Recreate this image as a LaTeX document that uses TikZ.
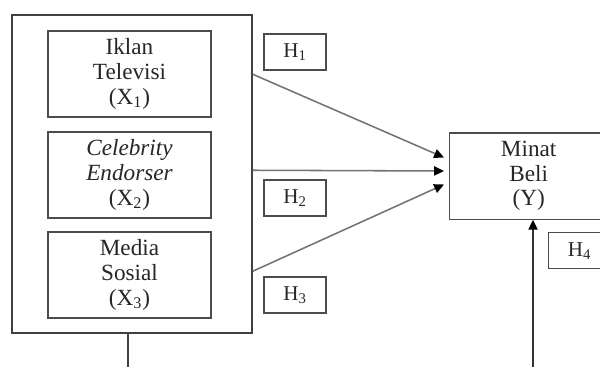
\documentclass[tikz,border=0pt]{standalone}
\usepackage{fontspec}
\setmainfont{Liberation Serif}
\usetikzlibrary{calc,arrows.meta}

\begin{document}
\begin{tikzpicture} [x=0.025cm, y=-0.025cm,
                     var/.style= {draw=black!70, line width=0.9pt,
                                  minimum width=4.075cm, minimum height=2.15cm,
                                  align=center, inner sep=0, text=black!85,
                                  font=\fontsize{16.5}{17.5}\selectfont},
                     hyp/.style= {draw=black!70, line width=0.9pt,
                                  minimum width=1.55cm, minimum height=0.9cm,
                                  inner sep=0, text=black!85,
                                  font=\fontsize{15}{15}\selectfont},
                     link/.style={draw=black!55, line width=1.1pt,
                                  -{Triangle[length=7pt,width=6.5pt,fill=black,color=black]}}]

\clip (0,0) rectangle (600,367);

% variabel bebas
\node[draw=black!75, line width=1pt, minimum width=6cm, minimum height=7.95cm,
      inner sep=0] (outer) at (132,174) {};
\node[var] (x1) at (129.5,74) {Iklan\\Televisi\\(X\textsubscript{1})};
\node[var] (x2) at (129.5,175) {\textit{Celebrity}\\\textit{Endorser}\\(X\textsubscript{2})};
\node[var] (x3) at (129.5,275) {Media\\Sosial\\(X\textsubscript{3})};

% variabel terikat
\node[var, minimum width=3.95cm, anchor=north west] (y) at (449,132.5) {Minat\\Beli\\(Y)};

% hipotesis
\node[hyp] (h1) at (295,52) {H\textsubscript{1}};
\node[hyp] (h2) at (295,198) {H\textsubscript{2}};
\node[hyp] (h3) at (295,295) {H\textsubscript{3}};
\node[hyp, anchor=north west] (h4) at (548,232) {H\textsubscript{4}};

\draw[link] ($(outer.north east)+(0,60)$)  -- ($(y.north west)+(-5,25)$);
\draw[link] ($(outer.north east)+(0,156)$) -- ($(y.north west)+(-5,38.5)$);
\draw[link] ($(outer.north east)+(0,257)$) -- ($(y.north west)+(-5,52)$);

\coordinate (b1) at (128,367);
\coordinate (b2) at (533,367);
\draw[black!75, line width=1pt] (outer.south -| b1) -- (b1);
\draw[link, draw=black!80] (b2) -- (b2 |- y.south);
\end{tikzpicture}
\end{document}
